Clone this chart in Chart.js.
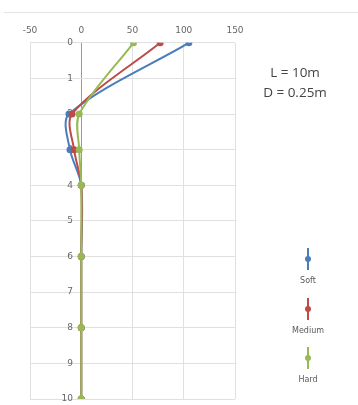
<!DOCTYPE html>
<html>
<head>
<meta charset="utf-8">
<script src="https://cdn.jsdelivr.net/npm/chart.js@4.4.1/dist/chart.umd.min.js"></script>
<style>
  html, body { margin: 0; padding: 0; background: #fff; }
  #wrap { position: relative; width: 358px; height: 405px; }
  #topline { position: absolute; left: 4px; right: 0; top: 12px; height: 0; border-top: 1px solid #e3e3e3; }
  #note { position: absolute; left: 245px; top: 62px; width: 100px; text-align: center;
          font-family: "Open Sans", "Noto Sans", sans-serif; font-size: 13.5px; line-height: 20px; color: #444; }
  .leg { position: absolute; left: 278px; width: 60px; text-align: center;
         font-family: "DejaVu Sans", sans-serif; font-size: 8px; color: #595959; }
  .leg .mk { position: relative; width: 60px; height: 22px; }
  .leg .mk .ln { position: absolute; left: 29px; top: 0; width: 2px; height: 22px; }
  .leg .mk .dt { position: absolute; left: 27px; top: 8px; width: 6px; height: 6px; border-radius: 50%; }
  .leg .tx { margin-top: 6px; }
</style>
</head>
<body>
<div id="wrap">
  <canvas id="c" width="358" height="405"></canvas>
  <div id="topline"></div>
  <div id="note">L = 10m<br>D = 0.25m</div>
  <div id="legend"></div>
</div>
<script>
// Depth below the pile head (m) and lateral response for each soil case
const depths = [0, 2, 3, 4, 6, 8, 10];
const soft   = [105, -12, -11, 0, 0, 0, 0];
const medium = [77, -9, -7, 0, 0, 0, 0];
const hard   = [51, -2, -2, 0, 0, 0, 0];

const seriesNames  = ['Soft', 'Medium', 'Hard'];
const seriesColors = ['#4a7ebb', '#be4b48', '#98b954'];
const xTicks = [-50, 0, 50, 100, 150];
const yTicks = [0, 1, 2, 3, 4, 5, 6, 7, 8, 9, 10];

const toPoints = vals => vals.map((v, i) => ({ x: v, y: depths[i] }));
const allSeries = [soft, medium, hard];

const datasets = allSeries.map((vals, i) => ({
  label: seriesNames[i],
  data: toPoints(vals),
  showLine: true,
  borderColor: seriesColors[i],
  backgroundColor: seriesColors[i],
  borderWidth: 2,
  pointRadius: 2.5,
  pointHoverRadius: 2.5,
  tension: 0.3,
  order: allSeries.length - i   // later series painted on top
}));

new Chart(document.getElementById('c'), {
  type: 'scatter',
  data: { datasets },
  options: {
    responsive: false,
    animation: false,
    layout: { padding: { left: 30, right: 123, top: 18, bottom: 6 } },
    plugins: { legend: { display: false }, tooltip: { enabled: false } },
    scales: {
      x: {
        type: 'linear',
        position: 'top',
        min: xTicks[0],
        max: xTicks[xTicks.length - 1],
        afterBuildTicks: s => { s.ticks = xTicks.map(v => ({ value: v })); },
        // the zero line doubles as the depth axis
        grid: { color: c => (c.tick && c.tick.value === 0 ? '#9a9a9a' : '#e0e0e0'), drawTicks: false },
        border: { display: false },
        ticks: { color: '#666', padding: 7, font: { family: 'DejaVu Sans', size: 9 } }
      },
      y: {
        type: 'linear',
        // labels hang just left of the zero line
        position: { x: -8 },
        reverse: true,
        min: yTicks[0],
        max: yTicks[yTicks.length - 1],
        afterBuildTicks: s => { s.ticks = yTicks.map(v => ({ value: v })); },
        afterFit: s => { s.paddingTop = 0; s.paddingBottom = 0; },
        grid: { color: '#e0e0e0', drawTicks: false },
        border: { display: false },
        ticks: { color: '#666', font: { family: 'DejaVu Sans', size: 9 } }
      }
    }
  }
});

// Legend: vertical line-and-marker swatch with the name beneath
const legendTops = [248, 298, 347];
const legend = document.getElementById('legend');
seriesNames.forEach((name, i) => {
  const d = document.createElement('div');
  d.className = 'leg';
  d.style.top = legendTops[i] + 'px';
  d.innerHTML = '<div class="mk"><div class="ln" style="background:' + seriesColors[i] +
    '"></div><div class="dt" style="background:' + seriesColors[i] + '"></div></div><div class="tx">' + name + '</div>';
  legend.appendChild(d);
});
</script>
</body>
</html>
